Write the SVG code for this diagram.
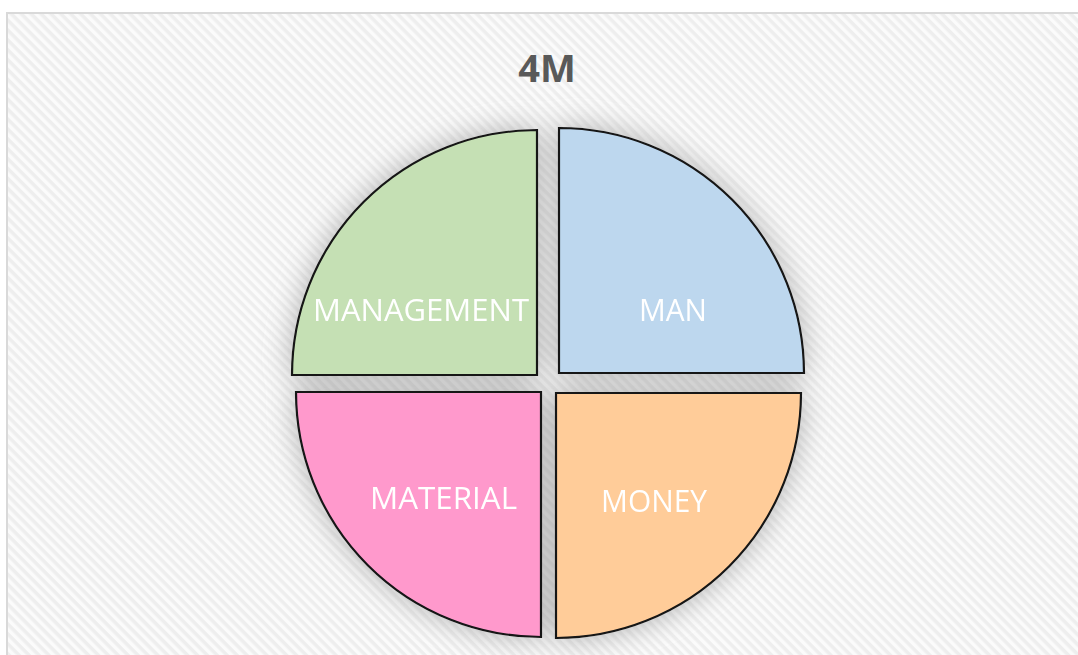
<svg xmlns="http://www.w3.org/2000/svg" width="1078" height="655" viewBox="0 0 1078 655">
  <defs>
    <pattern id="stripes" width="7" height="7" patternUnits="userSpaceOnUse" patternTransform="rotate(45)">
      <rect width="7" height="7" fill="#fbfbfb"/>
      <rect width="7" height="3.5" fill="#eeeeee"/>
    </pattern>
    <filter id="halo" x="-25%" y="-25%" width="150%" height="150%">
      <feGaussianBlur in="SourceAlpha" stdDeviation="15" result="b"/>
      <feFlood flood-color="#808080" flood-opacity="0.6"/>
      <feComposite in2="b" operator="in" result="s"/>
      <feMerge>
        <feMergeNode in="s"/>
        <feMergeNode in="SourceGraphic"/>
      </feMerge>
    </filter>
  </defs>
  <style>
    .q { stroke: #151515; stroke-width: 2.2; stroke-linejoin: miter; }
    .lbl { font-family: "Open Sans", "Liberation Sans", sans-serif; font-weight: 400; font-size: 31px; fill: #ffffff; }
    .title { font-family: "Open Sans", "Liberation Sans", sans-serif; font-weight: 700; font-size: 38px; fill: #595959; }
  </style>
  <rect x="0" y="0" width="1078" height="655" fill="#ffffff"/>
  <rect x="7" y="13" width="1080" height="660" fill="url(#stripes)" stroke="#d9d9d9" stroke-width="2"/>
  <text class="title" x="547" y="82" text-anchor="middle">4M</text>
  <g id="pie" filter="url(#halo)">
    <g id="management">
      <path class="q" fill="#c5e0b4" d="M537,375 L537,130 A245,245 0 0,0 292,375 Z"/>
      <text class="lbl" x="313" y="321" textLength="216" lengthAdjust="spacingAndGlyphs">MANAGEMENT</text>
    </g>
    <g id="man">
      <path class="q" fill="#bdd7ee" d="M559,373 L559,128 A245,245 0 0,1 804,373 Z"/>
      <text class="lbl" x="639" y="321" textLength="68" lengthAdjust="spacingAndGlyphs">MAN</text>
    </g>
    <g id="material">
      <path class="q" fill="#ff99cc" d="M541,392 L296,392 A245,245 0 0,0 541,637 Z"/>
      <text class="lbl" x="370" y="509" textLength="147" lengthAdjust="spacingAndGlyphs">MATERIAL</text>
    </g>
    <g id="money">
      <path class="q" fill="#ffcc99" d="M556,393 L801,393 A245,245 0 0,1 556,638 Z"/>
      <text class="lbl" x="601" y="512" textLength="106" lengthAdjust="spacingAndGlyphs">MONEY</text>
    </g>
  </g>
  <g id="connectors"/>
</svg>
